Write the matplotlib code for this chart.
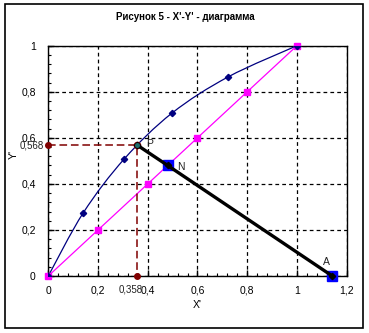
import matplotlib
matplotlib.use("Agg")
import matplotlib.pyplot as plt
import numpy as np
from matplotlib.path import Path
from matplotlib.patches import PathPatch, Rectangle
from matplotlib.ticker import AutoMinorLocator

plt.rcParams['font.family'] = ['Liberation Sans', 'DejaVu Sans']

# Data
eq_x = [0.0, 0.141, 0.306, 0.497, 0.724, 1.0]
eq_y = [0.0, 0.275, 0.509, 0.707, 0.865, 1.0]
diag_x = [0.0, 0.2, 0.4, 0.6, 0.8, 1.0]
diag_y = [0.0, 0.2, 0.4, 0.6, 0.8, 1.0]
op_x = [0.358, 0.48, 1.142]
op_y = [0.568, 0.48, 0.0]
op_labels = ['P', 'N', 'A']
guide_x = [0.0, 0.358, 0.358]
guide_y = [0.568, 0.568, 0.0]
sq_x = [0.48, 1.142]
sq_y = [0.48, 0.0]
xticks = [0, 0.2, 0.4, 0.6, 0.8, 1.0, 1.2]
xtick_labels = ['0', '0,2', '0,4', '0,6', '0,8', '1', '1,2']
yticks = [0, 0.2, 0.4, 0.6, 0.8, 1.0]
ytick_labels = ['0', '0,2', '0,4', '0,6', '0,8', '1']

fig = plt.figure(figsize=(3.69, 3.33), dpi=100)
W, H = 369, 333
ax = fig.add_axes([48.3 / W, 1 - 276 / H, (346.7 - 48.3) / W, (276 - 45.7) / H])
ax.set_xlim(0, 1.2)
ax.set_ylim(0, 1)

ax.set_xticks(xticks)
ax.set_xticklabels(xtick_labels)
ax.set_yticks(yticks)
ax.set_yticklabels(ytick_labels)
ax.xaxis.set_minor_locator(AutoMinorLocator(5))
ax.yaxis.set_minor_locator(AutoMinorLocator(5))
ax.tick_params(axis='both', which='major', direction='in', length=4, width=1,
               labelsize=7.5, colors='black')
ax.tick_params(axis='x', which='major', pad=7)
ax.tick_params(axis='y', which='major', pad=9)
ax.tick_params(axis='both', which='minor', direction='in', length=2.5, width=0.8)
for s in ax.spines.values():
    s.set_color('black')
    s.set_linewidth(1)

ax.grid(True, which='major', color='black', linestyle=(0, (3, 2.5)), linewidth=0.9)
ax.set_axisbelow(True)

# smooth equilibrium curve (Catmull-Rom as Bezier in data coordinates)
px = np.array(eq_x)
py = np.array(eq_y)
verts = [(px[0], py[0])]
codes = [Path.MOVETO]
n = len(px)
for i in range(n - 1):
    p0 = (px[max(i - 1, 0)], py[max(i - 1, 0)])
    p1 = (px[i], py[i])
    p2 = (px[i + 1], py[i + 1])
    p3 = (px[min(i + 2, n - 1)], py[min(i + 2, n - 1)])
    c1 = (p1[0] + (p2[0] - p0[0]) / 6, p1[1] + (p2[1] - p0[1]) / 6)
    c2 = (p2[0] - (p3[0] - p1[0]) / 6, p2[1] - (p3[1] - p1[1]) / 6)
    verts += [c1, c2, p2]
    codes += [Path.CURVE4] * 3
ax.add_patch(PathPatch(Path(verts, codes), facecolor='none', edgecolor='#000080',
                       linewidth=0.9, zorder=3))
ax.plot(eq_x, eq_y, linestyle='none', marker='D', markersize=3.2, color='#000080', zorder=4)

ax.plot(diag_x, diag_y, color='#FF00FF', linewidth=0.9, marker='s', markersize=4.5, zorder=3,
        clip_on=False)

ax.plot(guide_x, guide_y, color='#800000', linewidth=1.1, linestyle=(0, (5, 2.5)), zorder=4)
ax.plot([guide_x[0], guide_x[2]], [guide_y[0], guide_y[2]], linestyle='none', marker='o',
        markersize=4, color='#800000', zorder=5, clip_on=False)
ax.plot([op_x[0]], [op_y[0]], linestyle='none', marker='o', markersize=4.5, color='#800000',
        zorder=5)

ax.plot(sq_x, sq_y, linestyle='none', marker='s', markersize=6.5, color='#0000FF',
        markeredgecolor='#0000FF', zorder=5, clip_on=False)
ax.plot(op_x, op_y, color='black', linewidth=2.4, marker='D', markersize=3.2, zorder=6,
        clip_on=False)
ax.plot([op_x[0]], [op_y[0]], linestyle='none', marker='o', markersize=2.5, color='#1f6f6f',
        zorder=7)

offsets = [(6, 1), (7, -1), (-7, 10)]
for lab, x, y, off in zip(op_labels, op_x, op_y, offsets):
    ax.annotate(lab, (x, y), xytext=off, textcoords='offset points', fontsize=7.5,
                color='#222222', ha='left', va='center', zorder=8)

ax.annotate('0,568', (0, guide_y[0]), xytext=(-3, -0.5), textcoords='offset points',
            fontsize=7, ha='right', va='center', color='#222222', annotation_clip=False)
ax.annotate('0,358', (guide_x[1], 0), xytext=(-5, -9.5), textcoords='offset points',
            fontsize=7, ha='center', va='center', color='#222222', annotation_clip=False)

fig.text(197 / W, 1 - 305 / H, "X'", fontsize=7.5, ha='center', va='center')
fig.text(14 / W, 1 - 154 / H, "Y'", fontsize=7.5, ha='center', va='center', rotation=90)
fig.text(185 / W, 1 - 17.5 / H, "Рисунок 5 - X'-Y' - диаграмма", fontsize=7, fontweight='bold',
         ha='center', va='center')

fig.patches.append(Rectangle((4.5 / W, 1 - 328 / H), (362.7 - 4.5) / W, (328 - 4.3) / H,
                             transform=fig.transFigure, fill=False, edgecolor='black',
                             linewidth=1.2))

fig.savefig('out.png', dpi=100)
